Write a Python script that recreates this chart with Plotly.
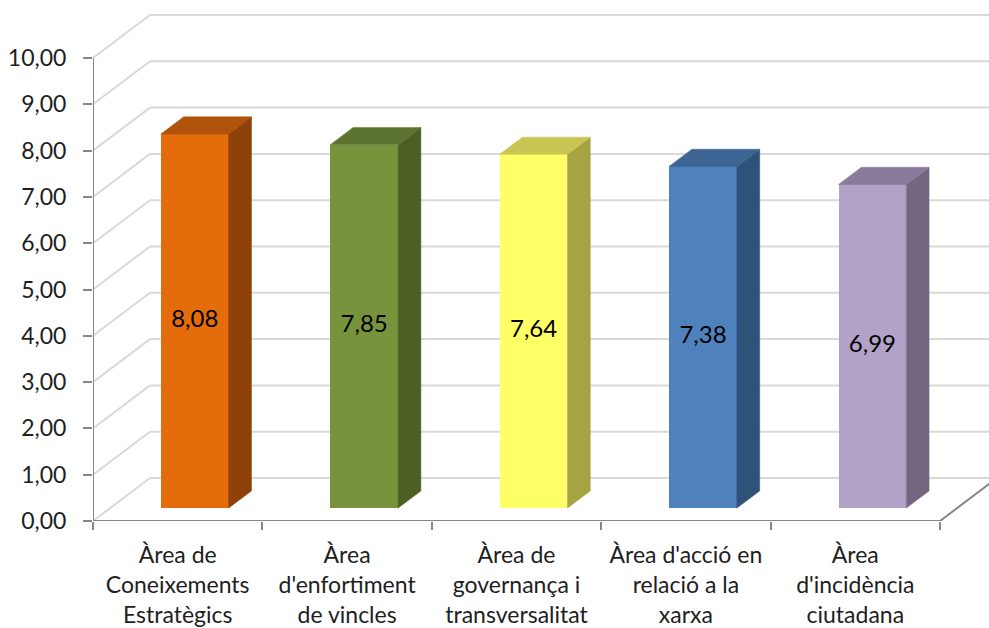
import plotly.graph_objects as go

# Scores per area
categories = [
    "Àrea de<br>Coneixements<br>Estratègics",
    "Àrea<br>d'enfortiment<br>de vincles",
    "Àrea de<br>governança i<br>transversalitat",
    "Àrea d'acció en<br>relació a la<br>xarxa",
    "Àrea<br>d'incidència<br>ciutadana",
]
values = [8.08, 7.85, 7.64, 7.38, 6.99]
y_ticks = [0, 1, 2, 3, 4, 5, 6, 7, 8, 9, 10]
y_tick_labels = ["0,00", "1,00", "2,00", "3,00", "4,00", "5,00",
                 "6,00", "7,00", "8,00", "9,00", "10,00"]

front_colors = ["#E46C0A", "#77933C", "#FFFF66", "#4F81BD", "#B3A2C7"]
top_colors = ["#B0530A", "#5D7430", "#C8C552", "#3C6593", "#8A7A9C"]
side_colors = ["#8E4108", "#4C6026", "#A6A342", "#2F5279", "#736681"]

# Oblique projection of the depth axis, in data units
DX = 0.3365   # horizontal shift per full depth (category units)
DY = 0.929    # vertical shift per full depth (value units)
D_FRONT, D_BACK = 0.3, 0.7   # bar depth span
BAR_W = 0.4

GRID = "#D9D9D9"
AXIS = "#878787"
FONT = "Lato"
TEXT = "#1E1E1E"

n_cat = len(categories)
fig = go.Figure()

# Back wall and side wall gridlines, kept beneath the bars
shapes = []
for v in y_ticks:
    shapes.append(dict(type="line", xref="x", yref="y", layer="below",
                       x0=0, y0=v, x1=DX, y1=v + DY,
                       line=dict(color=GRID, width=2)))
    shapes.append(dict(type="line", xref="x", yref="y", layer="below",
                       x0=DX, y0=v + DY, x1=n_cat + 1.0, y1=v + DY,
                       line=dict(color=GRID, width=2)))

# Floor front edge, right edge and the value axis line
fig.add_trace(go.Scatter(x=[0, n_cat, n_cat + DX * 1.5], y=[0, 0, DY * 1.5],
                         mode="lines", line=dict(color=AXIS, width=2),
                         hoverinfo="skip", showlegend=False))
fig.add_trace(go.Scatter(x=[0, 0], y=[0, y_ticks[-1]], mode="lines",
                         line=dict(color=AXIS, width=2),
                         hoverinfo="skip", showlegend=False))

base = D_FRONT * DY
shift = D_FRONT * DX
d = (D_BACK - D_FRONT) * DX
e = (D_BACK - D_FRONT) * DY

centers = [i + 0.5 + shift for i in range(n_cat)]

# Top and side faces of each bar
for i, v in enumerate(values):
    x0 = centers[i] - BAR_W / 2
    x1 = centers[i] + BAR_W / 2
    yt = base + v
    fig.add_trace(go.Scatter(
        x=[x1, x1 + d, x1 + d, x1, x1], y=[base, base + e, yt + e, yt, base],
        mode="lines", fill="toself", fillcolor=side_colors[i],
        line=dict(color=side_colors[i], width=0.5),
        hoverinfo="skip", showlegend=False))
    fig.add_trace(go.Scatter(
        x=[x0, x1, x1 + d, x0 + d, x0], y=[yt, yt, yt + e, yt + e, yt],
        mode="lines", fill="toself", fillcolor=top_colors[i],
        line=dict(color=top_colors[i], width=0.5),
        hoverinfo="skip", showlegend=False))

# Front faces
fig.add_trace(go.Bar(
    x=centers, y=values, base=[base] * n_cat, width=BAR_W,
    marker=dict(color=front_colors, line=dict(width=0)),
    hoverinfo="skip", showlegend=False))

# Value labels in the middle of each front face
fig.add_trace(go.Scatter(
    x=centers, y=[base + v / 2 for v in values], mode="text",
    text=[f"{v:.2f}".replace(".", ",") for v in values],
    textfont=dict(family=FONT, size=24, color="#000000"),
    hoverinfo="skip", showlegend=False))

# Hidden trace carrying the boundary ticks axis
fig.add_trace(go.Scatter(x=[0], y=[0], xaxis="x2", mode="markers",
                         marker=dict(opacity=0), hoverinfo="skip",
                         showlegend=False))

PX_PER_CAT = 169.4
PX_PER_VAL = 46.3
W, H = 989, 628
L, B = 93, 107
x_max = (W - L) / PX_PER_CAT
y_max = (H - B) / PX_PER_VAL

fig.update_layout(
    width=W, height=H,
    margin=dict(l=L, r=0, t=0, b=B),
    paper_bgcolor="white", plot_bgcolor="white",
    bargap=0,
    shapes=shapes,
    xaxis=dict(range=[0, x_max], showgrid=False, zeroline=False,
               showline=False, tickmode="array",
               tickvals=[i + 0.5 for i in range(n_cat)], ticktext=categories,
               ticks="", tickfont=dict(family=FONT, size=23, color=TEXT),
               ticklabelstandoff=18),
    xaxis2=dict(range=[0, x_max], overlaying="x", side="bottom",
                showgrid=False, zeroline=False, showline=False,
                tickmode="array", tickvals=list(range(n_cat + 1)),
                ticks="outside", ticklen=8, tickwidth=2, tickcolor=AXIS,
                showticklabels=False),
    yaxis=dict(range=[0, y_max], showgrid=False, zeroline=False,
               showline=False, tickmode="array", tickvals=y_ticks,
               ticktext=y_tick_labels, ticks="outside", ticklen=9,
               tickwidth=2, tickcolor=AXIS, ticklabelstandoff=12,
               tickfont=dict(family=FONT, size=23, color=TEXT)),
)

fig.write_html("out.html")
